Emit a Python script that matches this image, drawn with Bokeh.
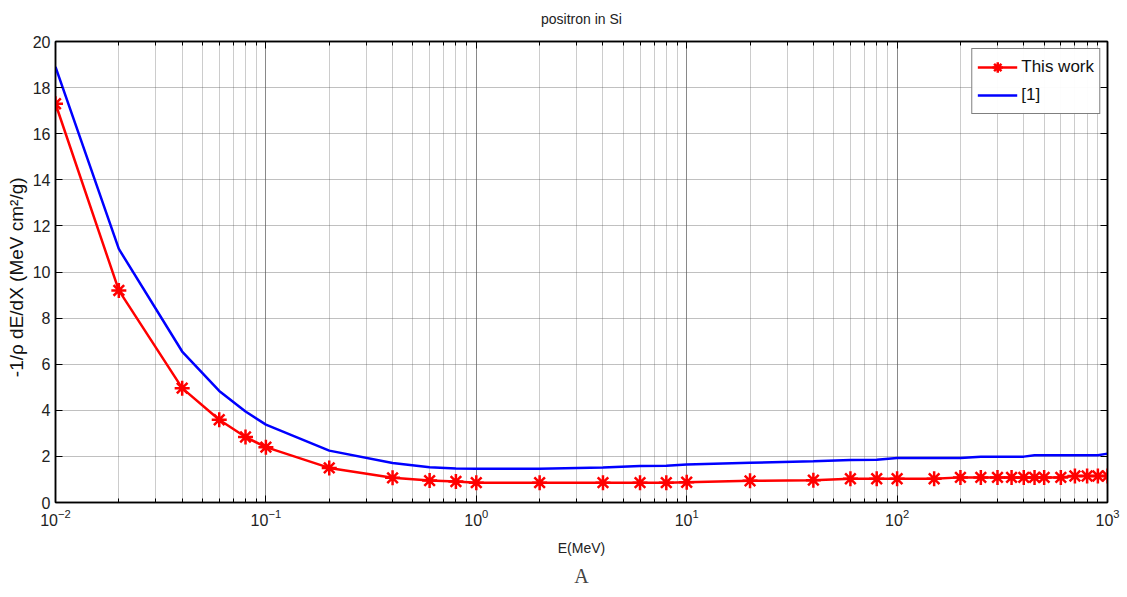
from bokeh.plotting import figure
from bokeh.models import LogAxis, LinearAxis, Title, Legend, LegendItem, LogTicker, FixedTicker
from bokeh.embed import file_html
from bokeh.resources import INLINE

energy = [0.01, 0.02, 0.04, 0.06, 0.08, 0.1, 0.2, 0.4, 0.6, 0.8, 1, 2, 4, 6, 8, 10,
          20, 40, 60, 80, 100, 150, 200, 250, 300, 350, 400, 450, 500, 600, 700, 800, 900, 1000]
this_work = [17.3, 9.2, 4.96, 3.59, 2.84, 2.40, 1.50, 1.07, 0.95, 0.91, 0.86, 0.86, 0.86, 0.86, 0.86, 0.88,
             0.94, 0.97, 1.03, 1.03, 1.03, 1.03, 1.09, 1.09, 1.09, 1.09, 1.09, 1.09, 1.09, 1.09, 1.15, 1.15, 1.15, 1.15]
ref1 = [18.9, 11.0, 6.55, 4.84, 3.95, 3.38, 2.25, 1.71, 1.53, 1.48, 1.46, 1.46, 1.52, 1.58, 1.59, 1.65,
        1.72, 1.79, 1.84, 1.85, 1.93, 1.93, 1.93, 1.99, 1.99, 1.99, 1.99, 2.05, 2.05, 2.05, 2.05, 2.05, 2.05, 2.12]
y_ticks = [0, 2, 4, 6, 8, 10, 12, 14, 16, 18, 20]

FONT = "Liberation Sans"

p = figure(width=1127, height=597, x_axis_type="log", x_range=(0.01, 1000), y_range=(0, 20),
           output_backend="svg", toolbar_location=None,
           min_border_left=55, min_border_right=20, min_border_top=41, min_border_bottom=95)

p.outline_line_color = "black"
p.outline_line_width = 1.5

bottom = p.xaxis[0]
left = p.yaxis[0]

xt = LogTicker(num_minor_ticks=10)
yt = FixedTicker(ticks=y_ticks)
bottom.ticker = xt
left.ticker = yt

def style(ax, labels=True):
    ax.axis_line_color = "black"
    ax.axis_line_width = 1.5
    ax.major_tick_in = 7
    ax.major_tick_out = 0
    ax.minor_tick_in = 4
    ax.minor_tick_out = 0
    ax.major_tick_line_color = "black"
    ax.minor_tick_line_color = "black"
    ax.major_label_text_font = FONT
    if labels:
        ax.major_label_text_font_size = "16px"
        ax.major_label_text_color = "#222222"
        ax.major_label_standoff = 6
    else:
        ax.major_label_text_font_size = "1px"
        ax.major_label_text_color = None
        ax.major_label_standoff = 0

style(bottom)
style(left)
left.minor_tick_line_color = None
left.major_label_standoff = 5

top = LogAxis(ticker=xt)
style(top, labels=False)
top.axis_label = "positron in Si"
top.axis_label_text_font = FONT
top.axis_label_text_font_size = "14px"
top.axis_label_text_font_style = "normal"
top.axis_label_text_color = "#222222"
top.axis_label_standoff = 15
right = LinearAxis(ticker=yt)
style(right, labels=False)
right.minor_tick_line_color = None
p.add_layout(top, "above")
p.add_layout(right, "right")

bottom.axis_label = "E(MeV)"
bottom.axis_label_text_font = FONT
bottom.axis_label_text_font_size = "14px"
bottom.axis_label_text_font_style = "normal"
bottom.axis_label_text_color = "#222222"
bottom.axis_label_standoff = 11

left.axis_label = "-1/\u03c1 dE/dX   (MeV cm\u00b2/g)"
left.axis_label_text_font = FONT
left.axis_label_text_font_size = "19px"
left.axis_label_text_font_style = "normal"
left.axis_label_text_color = "#111111"
left.axis_label_standoff = 3

for g in (p.xgrid, p.ygrid):
    g.grid_line_color = "#555555"
    g.grid_line_dash = "1 1"
    g.grid_line_alpha = 0.75
p.xgrid.ticker = xt
p.ygrid.ticker = yt
p.xgrid.minor_grid_line_color = "#555555"
p.xgrid.minor_grid_line_dash = "1 1"
p.xgrid.minor_grid_line_alpha = 0.6

r_blue = p.line(energy, ref1, line_color="blue", line_width=2.5)
r_red = p.line(energy, this_work, line_color="red", line_width=2.5)
r_mark = p.scatter(energy, this_work, marker="asterisk", size=15, line_color="red", line_width=2.5)

legend = Legend(items=[LegendItem(label="This work", renderers=[r_red, r_mark]),
                       LegendItem(label="[1]", renderers=[r_blue])],
                location="top_right")
legend.label_text_font = FONT
legend.label_text_font_size = "17px"
legend.label_text_color = "#111111"
legend.border_line_color = "black"
legend.border_line_width = 1.5
legend.glyph_width = 40
legend.label_height = 26
legend.glyph_height = 26
legend.margin = 7
legend.padding = 5
legend.spacing = 2
legend.label_standoff = 4
p.add_layout(legend)

p.add_layout(Title(text="A", align="center", text_font="Liberation Serif",
                   text_font_size="20px", text_font_style="normal", standoff=8), "below")

open("out.html", "w").write(file_html(p, INLINE))
